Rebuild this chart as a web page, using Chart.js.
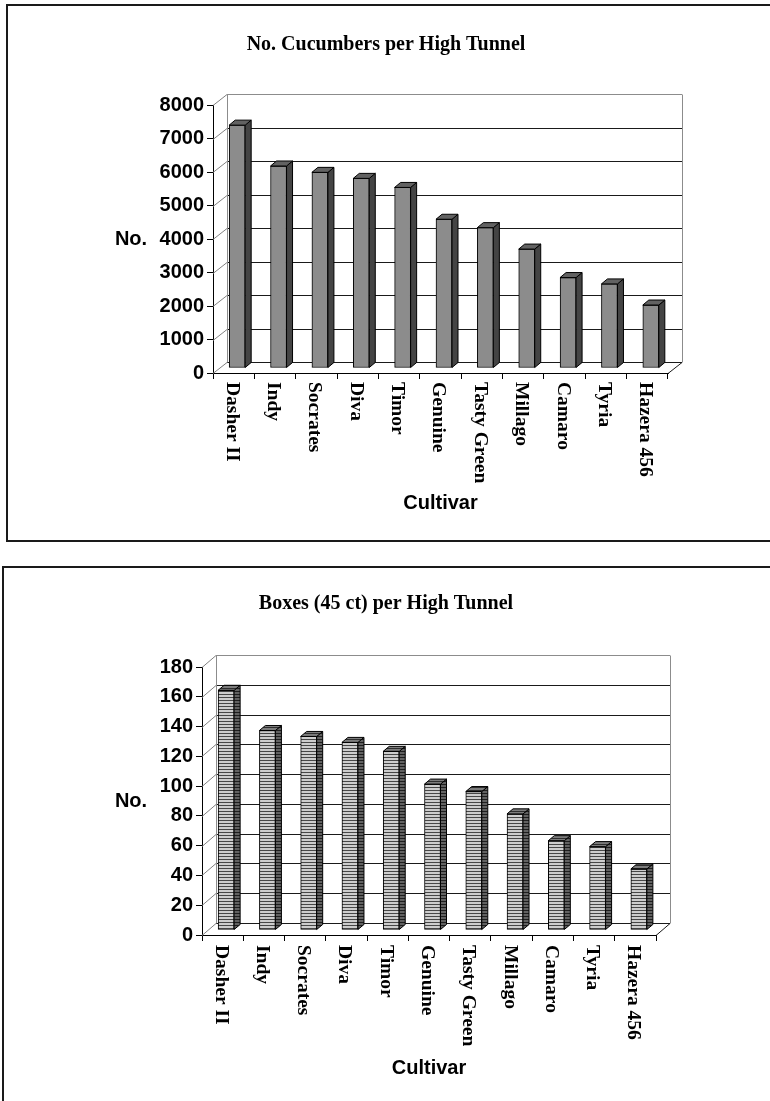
<!DOCTYPE html>
<html>
<head>
<meta charset="utf-8">
<title>Cucumbers per High Tunnel</title>
<script src="https://cdn.jsdelivr.net/npm/chart.js@4.4.1/dist/chart.umd.min.js"></script>
<style>
  html, body { margin: 0; padding: 0; background: #fff; width: 770px; height: 1101px; overflow: hidden; }
  .frame { position: absolute; border: 2px solid #1a1a1a; box-sizing: border-box; }
  .wrap { position: absolute; left: 0; width: 770px; }
</style>
</head>
<body>
<div class="frame" style="left:6px; top:4px; width:790px; height:538px;"></div>
<div class="frame" style="left:2px; top:566px; width:790px; height:600px;"></div>
<div class="wrap" style="top:0; height:550px;"><canvas id="cucumberChart"></canvas></div>
<div class="wrap" style="top:550px; height:551px;"><canvas id="boxChart"></canvas></div>

<script>
Chart.defaults.color = '#000';
Chart.defaults.font.family = '"Liberation Sans", Arial, sans-serif';

// data
const cultivars = ['Dasher II', 'Indy', 'Socrates', 'Diva', 'Timor', 'Genuine',
                   'Tasty Green', 'Millago', 'Camaro', 'Tyria', 'Hazera 456'];
const cucumbersPerTunnel = [7250, 6030, 5840, 5660, 5390, 4440, 4190, 3550, 2700, 2510, 1880];
const boxesPerTunnel = [161, 134, 130, 126, 120, 98, 93, 78, 60, 56, 41];
const cucumberTicks = [0, 1000, 2000, 3000, 4000, 5000, 6000, 7000, 8000];
const boxTicks = [0, 20, 40, 60, 80, 100, 120, 140, 160, 180];

// horizontal stripe fill for the second chart
function stripes(ctx, light, dark) {
    const c = document.createElement('canvas');
    c.width = 4; c.height = 3;
    const g = c.getContext('2d');
    g.fillStyle = light; g.fillRect(0, 0, 4, 3);
    g.fillStyle = dark; g.fillRect(0, 2, 4, 1);
    return ctx.createPattern(c, 'repeat');
}

// fake 3D: back wall + gridlines, bar side/top faces, rotated cultivar labels
function depthPlugin(look) {
    return {
        id: 'depth3d',
        beforeDatasetsDraw(chart) {
            const ctx = chart.ctx, a = chart.chartArea, y = chart.scales.y;
            const wx = look.wall[0], wy = look.wall[1];
            ctx.save();
            ctx.lineWidth = 1;
            y.ticks.forEach(function(t) {
                const py = Math.round(y.getPixelForValue(t.value)) + 0.5;
                ctx.strokeStyle = '#808080';
                ctx.beginPath(); ctx.moveTo(a.left, py); ctx.lineTo(a.left + wx, py + wy); ctx.stroke();
                ctx.strokeStyle = t.value === y.max ? '#8c8c8c' : '#1a1a1a';
                ctx.beginPath(); ctx.moveTo(a.left + wx, py + wy); ctx.lineTo(a.right + wx, py + wy); ctx.stroke();
            });
            const top = Math.round(a.top) + 0.5 + wy, bot = Math.round(a.bottom) + 0.5 + wy;
            ctx.strokeStyle = '#8c8c8c';
            ctx.beginPath();
            ctx.moveTo(Math.round(a.left + wx) + 0.5, top); ctx.lineTo(Math.round(a.left + wx) + 0.5, bot);
            ctx.moveTo(Math.round(a.right + wx) + 0.5, top); ctx.lineTo(Math.round(a.right + wx) + 0.5, bot);
            ctx.stroke();
            ctx.strokeStyle = '#1a1a1a';
            ctx.beginPath(); ctx.moveTo(a.right, Math.round(a.bottom) + 0.5); ctx.lineTo(a.right + wx, bot); ctx.stroke();
            ctx.restore();
            // bars stand a little behind the front axis
            ctx.save();
            ctx.translate(look.shift[0], look.shift[1]);
        },
        afterDatasetsDraw(chart) {
            const ctx = chart.ctx;
            const dx = look.depth[0], dy = look.depth[1];
            ctx.lineWidth = 1;
            ctx.strokeStyle = '#000';
            chart.getDatasetMeta(0).data.forEach(function(bar) {
                const l = bar.x - bar.width / 2, r = bar.x + bar.width / 2, t = bar.y, b = bar.base;
                ctx.fillStyle = look.side;
                ctx.beginPath();
                ctx.moveTo(r, t); ctx.lineTo(r + dx, t + dy); ctx.lineTo(r + dx, b + dy); ctx.lineTo(r, b);
                ctx.closePath(); ctx.fill(); ctx.stroke();
                ctx.fillStyle = look.cap;
                ctx.beginPath();
                ctx.moveTo(l, t); ctx.lineTo(l + dx, t + dy); ctx.lineTo(r + dx, t + dy); ctx.lineTo(r, t);
                ctx.closePath(); ctx.fill(); ctx.stroke();
            });
            ctx.restore();
        },
        afterDraw(chart) {
            const ctx = chart.ctx, a = chart.chartArea, x = chart.scales.x;
            ctx.save();
            ctx.fillStyle = '#000';
            ctx.font = 'bold 19.5px "Liberation Serif", "Times New Roman", serif';
            ctx.textAlign = 'left';
            ctx.textBaseline = 'middle';
            chart.data.labels.forEach(function(label, i) {
                ctx.save();
                ctx.translate(x.getPixelForValue(i) - 2, a.bottom + look.labelGap);
                ctx.rotate(Math.PI / 2);
                ctx.fillText(label, 0, 0);
                ctx.restore();
            });
            ctx.font = 'bold 20px "Liberation Sans", Arial, sans-serif';
            ctx.textAlign = 'center';
            ctx.fillText('No.', look.yTitleX, (a.top + a.bottom) / 2);
            ctx.fillText('Cultivar', (a.left + a.right) / 2, a.bottom + look.xTitleGap);
            ctx.restore();
        }
    };
}

function initTunnelChart(canvasId, values, tickValues, look) {
    const ctx = document.getElementById(canvasId).getContext('2d');
    const front = look.stripes ? stripes(ctx, '#cdcdcd', '#474747') : '#8c8c8c';
    look.side = look.stripes ? stripes(ctx, '#626262', '#1e1e1e') : '#444444';
    look.cap = look.stripes ? stripes(ctx, '#7c7c7c', '#2e2e2e') : '#626262';

    return new Chart(ctx, {
        type: 'bar',
        data: {
            labels: cultivars,
            datasets: [{
                data: values,
                backgroundColor: front,
                borderColor: '#000',
                borderWidth: 1,
                borderSkipped: false,
                barThickness: 16,
                clip: false
            }]
        },
        options: {
            responsive: true,
            maintainAspectRatio: false,
            animation: false,
            layout: { padding: look.padding },
            scales: {
                x: {
                    grid: { offset: true, drawOnChartArea: false, tickLength: 6, color: '#000' },
                    border: { color: '#000', width: 1 },
                    ticks: { display: false },
                    afterFit: function(s) { s.height = 6; }
                },
                y: {
                    min: tickValues[0],
                    max: tickValues[tickValues.length - 1],
                    afterBuildTicks: function(s) {
                        s.ticks = tickValues.map(function(v) { return { value: v }; });
                    },
                    grid: { drawOnChartArea: false, tickLength: 6, color: '#000' },
                    border: { color: '#000', width: 1 },
                    ticks: {
                        padding: 3,
                        color: '#000',
                        font: { size: 20, weight: 'bold' },
                        callback: function(value) { return String(value); }
                    },
                    afterFit: function(s) { s.width = look.axisWidth; }
                }
            },
            plugins: {
                legend: { display: false },
                tooltip: { enabled: false },
                title: {
                    display: true,
                    text: look.title,
                    color: '#000',
                    font: { family: '"Liberation Serif", "Times New Roman", serif', size: 20, weight: 'bold' },
                    padding: look.titlePadding
                }
            }
        },
        plugins: [depthPlugin(look)]
    });
}

initTunnelChart('cucumberChart', cucumbersPerTunnel, cucumberTicks, {
    title: 'No. Cucumbers per High Tunnel',
    padding: { left: 104, right: 102, top: 0, bottom: 171 },
    axisWidth: 109,
    titlePadding: { top: 33, bottom: 48 },
    wall: [14, -11],
    shift: [3.5, -5],
    depth: [6, -5],
    labelGap: 9,
    yTitleX: 131,
    xTitleGap: 130,
    stripes: false
});

initTunnelChart('boxChart', boxesPerTunnel, boxTicks, {
    title: 'Boxes (45 ct) per High Tunnel',
    padding: { left: 116, right: 114, top: 0, bottom: 160 },
    axisWidth: 86,
    titlePadding: { top: 42, bottom: 51 },
    wall: [14, -12],
    shift: [3.5, -5],
    depth: [6, -5],
    labelGap: 10,
    yTitleX: 131,
    xTitleGap: 133,
    stripes: true
});
</script>
</body>
</html>
